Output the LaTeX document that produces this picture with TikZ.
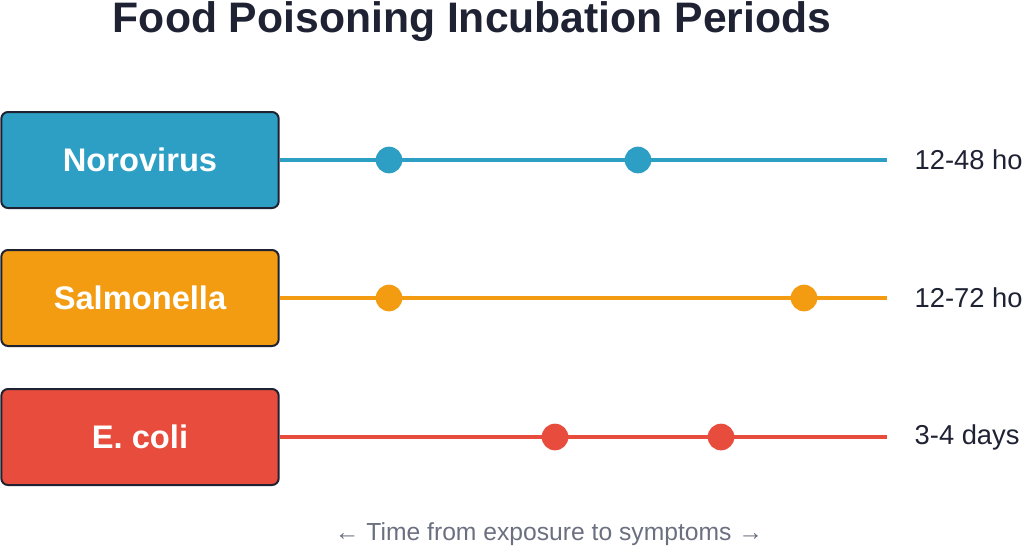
\documentclass[tikz,border=0pt]{standalone}
\usepackage{fontspec}
\setmainfont{Liberation Sans}
\definecolor{noro}{HTML}{2E9FC4}
\definecolor{salm}{HTML}{F39C12}
\definecolor{ecol}{HTML}{E74C3C}
\definecolor{ink}{HTML}{1E2233}
\definecolor{foot}{HTML}{6B7080}
\begin{document}
\begin{tikzpicture}[x=0.75pt,y=-0.75pt,
  bug/.style={draw=ink,line width=1.5pt,rounded corners=5pt,minimum width=208pt,minimum height=72pt,text=white,font=\fontsize{24.5}{29}\selectfont\bfseries},
  tl/.style={line width=3pt},
  dot/.style={circle,inner sep=0pt,minimum size=20pt},
  rt/.style={anchor=west,text=ink,font=\fontsize{20.5}{24}\selectfont}]
\useasboundingbox (0,0) rectangle (1024,547);
\clip (0,0) rectangle (1024,547);
\node[text=ink,font=\fontsize{32}{38}\selectfont\bfseries] (title) at (472,22) {Food Poisoning Incubation Periods};
\foreach \n/\t/\c/\y/\a/\b/\r in {n/Norovirus/noro/160/389/638/12-48 ho, s/Salmonella/salm/298/389/804/12-72 ho, e/E. coli/ecol/437/555/721/3-4 days}{
  \node[bug,fill=\c] (\n box) at (140,\y) {\t};
  \coordinate (\n end) at (887,\y);
  \draw[tl,\c] (\n box.east) -- (\n end);
  \node[dot,fill=\c] (\n d1) at (\a,\y) {};
  \node[dot,fill=\c] (\n d2) at (\b,\y) {};
  \node[rt] (\n lab) at (910,\y) {\r};
}
\node[text=foot,font=\fontsize{18.5}{22}\selectfont] (foot) at (549,534) {← Time from exposure to symptoms →};
\end{tikzpicture}
\end{document}
